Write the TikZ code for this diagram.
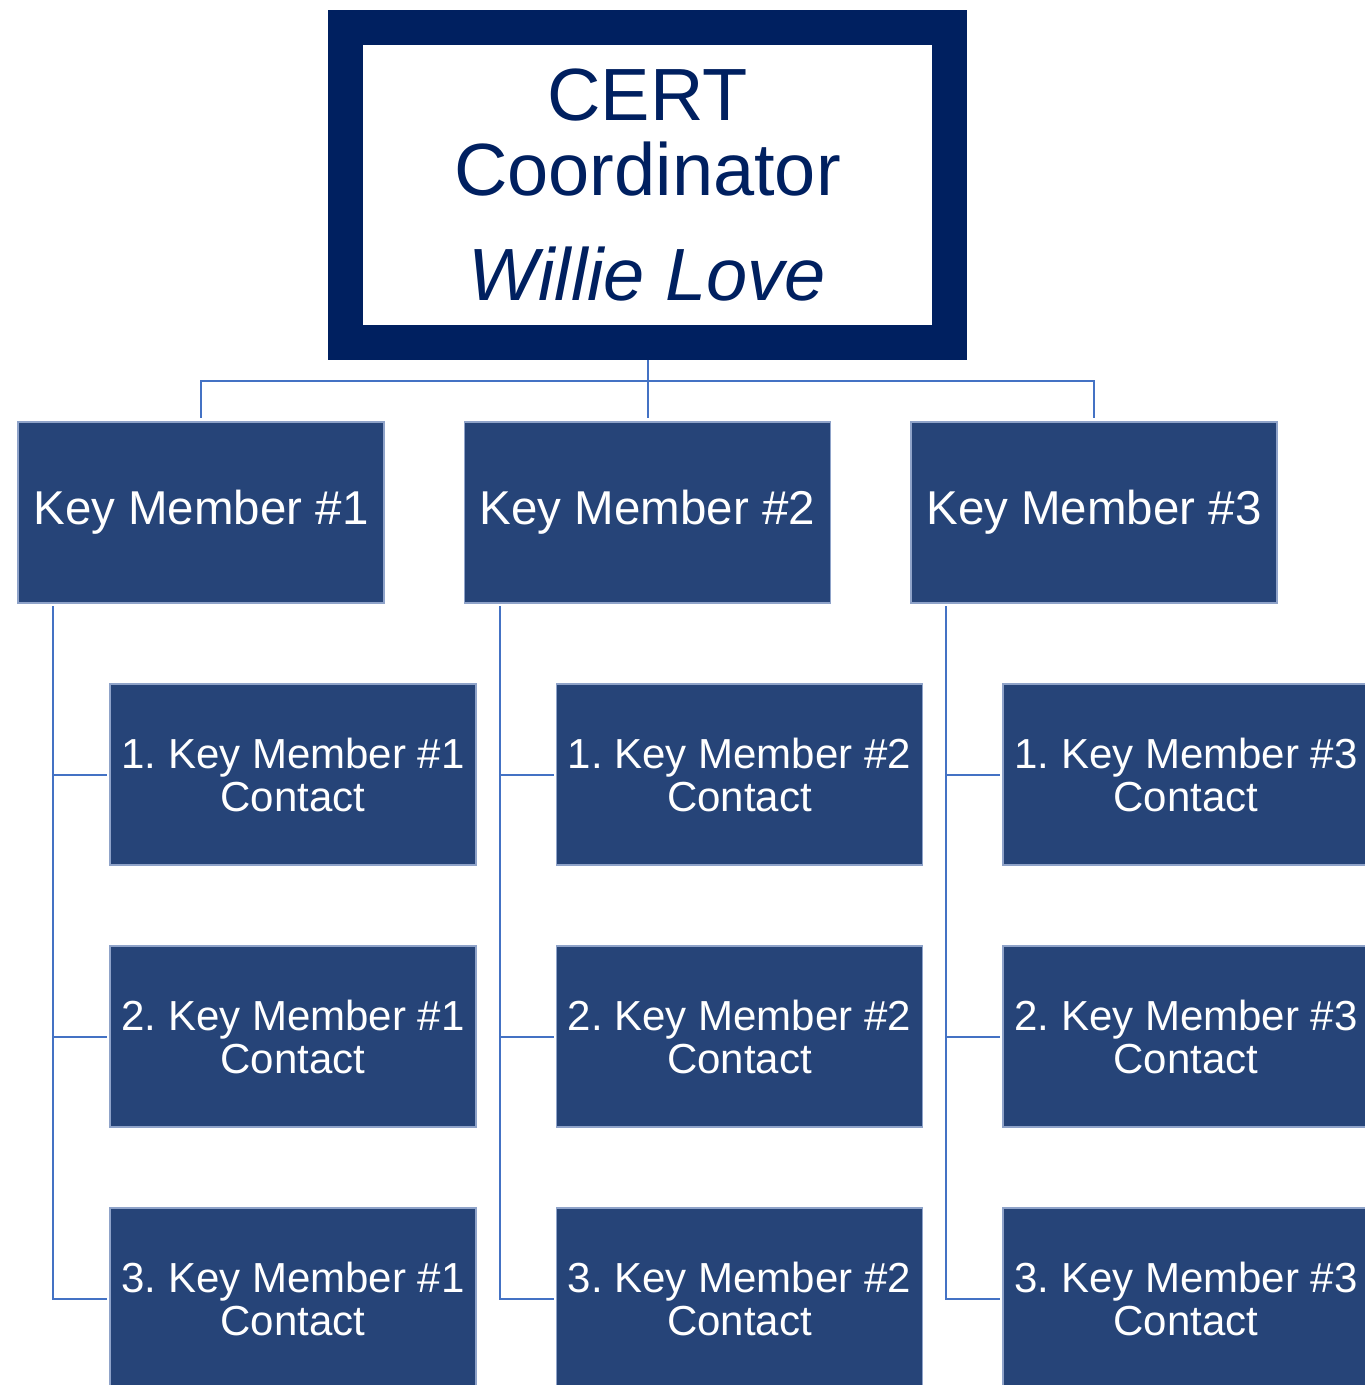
\documentclass[tikz,border=0pt]{standalone}
\usepackage{fontspec}
\setmainfont{Liberation Sans}
\usepackage{tikz}
\usetikzlibrary{calc}

\definecolor{navy}{HTML}{002060}
\definecolor{boxblue}{HTML}{264478}
\definecolor{boxedge}{HTML}{8FA3C9}
\definecolor{linkblue}{HTML}{4472C4}

\begin{document}
\frenchspacing
\begin{tikzpicture}[
        x=1pt, y=-1pt,
        coordbox/.style={draw=navy, line width=35pt, fill=white, text=navy,
            minimum width=604pt, minimum height=315pt, inner sep=0pt,
            align=center, font=\fontsize{74}{75}\selectfont},
        keybox/.style={draw=boxedge, line width=1.2pt, fill=boxblue, text=white,
            minimum width=366pt, minimum height=181pt, inner sep=0pt, outer sep=0pt,
            align=center, font=\fontsize{47.5}{44}\selectfont},
        contactbox/.style={keybox, font=\fontsize{42}{43}\selectfont},
        link/.style={draw=linkblue, line width=2pt}
    ]
        % --- Marco y recorte ---
        \useasboundingbox (0,0) rectangle (1365,1385);
        \clip (0,0) rectangle (1365,1385);

        % --- Coordinador ---
        \node[coordbox] (coord) at (647.5,185) {CERT\\Coordinator\\[30pt]\itshape Willie Love};

        % --- Miembros clave y contactos ---
        \def\colstep{446.5} % Distancia entre columnas
        \def\rowstep{262}   % Distancia entre contactos
        \foreach \i in {1,2,3} {
            \node[keybox] (km\i) at ({201+(\i-1)*\colstep},512.5) {Key Member \#\i};
            \coordinate (s\i) at ([xshift=35pt, yshift=-3pt]km\i.south west);
            \foreach \j in {1,2,3} {
                \node[contactbox] (c\i\j) at ({293+(\i-1)*\colstep},{774.5+(\j-1)*\rowstep})
                    {\j. Key Member \#\i\\Contact};
                \draw[link, shorten >=3pt] (s\i) |- (c\i\j.west);
            }
            % Línea desde el coordinador
            \draw[link, shorten >=4pt] (coord.south) -- ++(0,21) -| (km\i.north);
        }

    \end{tikzpicture}
\end{document}
